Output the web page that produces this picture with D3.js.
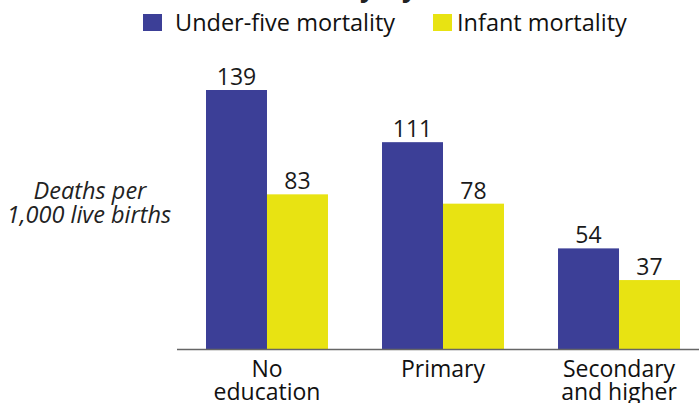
<!DOCTYPE html>
<html>
<head>
<meta charset="utf-8">
<script src="https://cdn.jsdelivr.net/npm/d3@7"></script>
<style>
  html, body { margin: 0; padding: 0; background: #fff; }
  svg { display: block; font-family: "Open Sans", "Noto Sans", sans-serif; }
</style>
</head>
<body>
<svg id="chart" width="699" height="403"></svg>
<script>
// Mortality by mother's education (deaths per 1,000 live births)
const categories = [["No", "education"], ["Primary"], ["Secondary", "and higher"]];
const seriesNames = ["Under-five mortality", "Infant mortality"];
const underFive = [139, 111, 54];
const infant = [83, 78, 37];
const colors = ["#3c3f97", "#e8e312"];
const titleText = "Childhood mortality by mother's education";

const svg = d3.select("#chart");
const W = 699;
const baseY = 349;

const catKeys = categories.map(c => c.join(" "));
const x = d3.scaleBand().domain(catKeys).range([206, 680]).paddingInner(0.307).paddingOuter(0);
const xs = d3.scaleBand().domain(seriesNames).range([0, x.bandwidth()]).padding(0);
const y = d3.scaleLinear().domain([0, 139]).range([baseY, 90]);

const rows = catKeys.map((k, i) => ({ key: k, values: [underFive[i], infant[i]] }));

// Title (sits mostly above the visible area; only descenders show)
const title = svg.append("text")
  .attr("y", -3)
  .attr("font-size", 26)
  .attr("font-weight", "bold")
  .attr("fill", "#222")
  .text(titleText);
const yIdx = titleText.indexOf("y by");
const p1 = title.node().getStartPositionOfChar(yIdx).x;
const p2 = title.node().getStartPositionOfChar(yIdx + 3).x;
title.attr("word-spacing", 42 - (p2 - p1));
const q1 = title.node().getStartPositionOfChar(yIdx).x;
title.attr("x", 360 - q1);

// Legend
const legend = [{ name: seriesNames[0], sx: 143, tx: 175 }, { name: seriesNames[1], sx: 433, tx: 457 }];
legend.forEach((l, i) => {
  svg.append("rect").attr("x", l.sx).attr("y", 14).attr("width", 19).attr("height", 17).attr("fill", colors[i]);
  svg.append("text").attr("x", l.tx).attr("y", 31).attr("font-size", 23.5).attr("fill", "#111").text(l.name);
});

// Bars and value labels
const g = svg.append("g");
rows.forEach(r => {
  r.values.forEach((v, j) => {
    const bx = x(r.key) + xs(seriesNames[j]);
    g.append("rect")
      .attr("x", bx).attr("y", y(v))
      .attr("width", xs.bandwidth()).attr("height", baseY - y(v))
      .attr("fill", colors[j]);
    g.append("text")
      .attr("x", bx + xs.bandwidth() / 2).attr("y", y(v) - 5)
      .attr("text-anchor", "middle").attr("font-size", 23).attr("fill", "#1a1a1a")
      .text(v);
  });
});

// Baseline
svg.append("line").attr("x1", 177).attr("x2", W).attr("y1", baseY + 0.5).attr("y2", baseY + 0.5)
  .attr("stroke", "#666").attr("stroke-width", 1.6);

// Category labels
categories.forEach((lines, i) => {
  const cx = x(catKeys[i]) + x.bandwidth() / 2;
  const t = svg.append("text").attr("text-anchor", "middle").attr("font-size", 23).attr("fill", "#111");
  lines.forEach((ln, k) => {
    t.append("tspan").attr("x", cx).attr("y", 377 + k * 23).text(ln);
  });
});

// Y-axis caption
const yl = svg.append("text").attr("text-anchor", "middle").attr("font-size", 23.5)
  .attr("font-style", "italic").attr("fill", "#222");
yl.append("tspan").attr("x", 90).attr("y", 199).text("Deaths per");
yl.append("tspan").attr("x", 89).attr("y", 223).text("1,000 live births");
</script>
</body>
</html>
